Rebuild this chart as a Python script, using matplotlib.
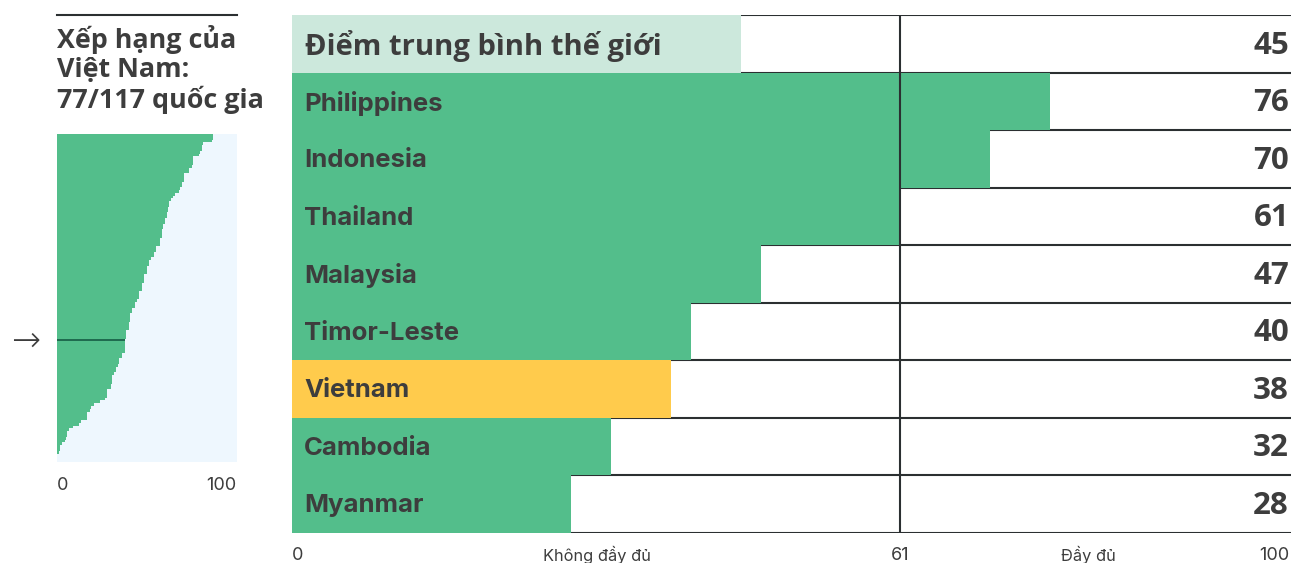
import matplotlib
matplotlib.use("Agg")
import matplotlib.pyplot as plt

# main chart data
labels = ["Điểm trung bình thế giới", "Philippines", "Indonesia", "Thailand",
          "Malaysia", "Timor-Leste", "Vietnam", "Cambodia", "Myanmar"]
scores = [45, 76, 70, 61, 47, 40, 38, 32, 28]
threshold = 61

# scores of all 117 countries, sorted high -> low
dist_scores = [
    86.5, 86.5, 85.9, 81.1, 80.4, 80.4, 79.5, 78.9, 75.6, 75.6,
    75.6, 75.2, 73.3, 73.3, 70.6, 70.6, 70.6, 69.3, 69.3, 68.5,
    67.8, 65.4, 64.6, 63.1, 62.4, 62.4, 61.9, 61.9, 61.1, 61.1,
    59.8, 59.8, 59.1, 59.1, 58.3, 58.3, 58.3, 57.2, 57.2, 57.2,
    55.2, 55.2, 54.1, 54.1, 52.4, 51.1, 51.1, 50.0, 50.0, 50.0,
    48.5, 48.5, 48.5, 47.2, 47.2, 47.2, 45.4, 45.4, 45.4, 44.3,
    43.1, 43.1, 41.5, 41.5, 40.6, 40.6, 40.6, 39.8, 39.8, 39.8,
    38.3, 38.3, 38.3,
    38.0,
    38.0, 38.0, 38.0, 38.0, 35.9, 35.9, 34.4, 34.4, 33.9, 32.8,
    32.8, 31.7, 30.6, 30.6, 30.6, 29.8, 29.8, 27.6, 27.6, 27.6,
    26.7, 23.9, 20.4, 18.9, 18.3, 16.7, 16.7, 16.7, 13.3, 12.2,
    8.9, 6.7, 5.6, 5.6, 5.0, 4.4, 2.8, 1.7, 1.7, 1.1,
    0, 0, 0]
vn_index = 73

GREEN = "#53be8b"
LIGHT = "#cce8dc"
YELLOW = "#ffcb4c"
DARK = "#2b2f31"
TEXT = "#3d3d3d"

W, H = 1291, 563
fig = plt.figure(figsize=(W / 100, H / 100), dpi=100)

def px(x0, y0, x1, y1):
    # pixel box (top-left origin) -> figure fraction
    return [x0 / W, 1 - y1 / H, (x1 - x0) / W, (y1 - y0) / H]

# ---------------- main bar chart ----------------
ax = fig.add_axes(px(292, 15, 1291, 533))
n = len(labels)
ax.set_xlim(0, 100.2)
ax.set_ylim(n, 0)
ax.axis("off")

ax.hlines(range(n + 1), 0, 100.2, color=DARK, lw=1.5, zorder=1)
colors = [LIGHT] + [YELLOW if l == "Vietnam" else GREEN for l in labels[1:]]
ax.barh([i + 0.5 for i in range(n)], scores, height=1.0, color=colors, zorder=2)
ax.vlines(threshold, 0, n, color=DARK, lw=1.5, zorder=3)

for i, (lab, s) in enumerate(zip(labels, scores)):
    if i == 0:
        ax.text(1.3, i + 0.53, lab, fontsize=21, fontweight="bold", family="Open Sans",
                color=TEXT, va="center", ha="left", zorder=4)
    else:
        ax.text(1.2, i + 0.53, lab, fontsize=18.5, fontweight="bold", family="Inter",
                color=TEXT, va="center", ha="left", zorder=4)
    ax.text(100.0, i + 0.53, str(s), fontsize=22.5, fontweight="bold", family="Open Sans",
            color=TEXT, va="center", ha="right", zorder=4)

# bottom scale labels
yb = 1 - 555 / H
fig.text(292 / W, yb, "0", fontsize=13, color=TEXT, ha="left", va="center", family="Inter")
fig.text(597 / W, yb, "Không đầy đủ", fontsize=11.8, color=TEXT, ha="center", va="center", family="Inter")
fig.text(900 / W, yb, "61", fontsize=13, color=TEXT, ha="center", va="center", family="Inter")
fig.text(1088 / W, yb, "Đầy đủ", fontsize=11.8, color=TEXT, ha="center", va="center", family="Inter")
fig.text(1289 / W, yb, "100", fontsize=13, color=TEXT, ha="right", va="center", family="Inter")

# ---------------- left mini chart ----------------
fig.add_artist(plt.Line2D([57 / W, 237 / W], [1 - 15 / H, 1 - 15 / H], color=DARK, lw=1.5))
fig.text(57 / W, 1 - 25 / H, "Xếp hạng của\nViệt Nam:\n77/117 quốc gia", fontsize=19.4,
         fontweight="bold", family="Open Sans", color=TEXT, ha="left", va="top",
         linespacing=1.14)

ax2 = fig.add_axes(px(57, 134, 237, 462))
m = len(dist_scores)
ax2.set_facecolor("#eef7fe")
ax2.set_xlim(0, 100)
ax2.set_ylim(m, 0)
bar_cols = ["#1f6b4f" if i == vn_index else GREEN for i in range(m)]
ax2.barh([i + 0.5 for i in range(m)], dist_scores, height=1.0, color=bar_cols, lw=0)
ax2.set_xticks([])
ax2.set_yticks([])
for s in ax2.spines.values():
    s.set_visible(False)

fig.text(57 / W, 1 - 486 / H, "0", fontsize=13, color=TEXT, ha="left", va="center", family="Inter")
fig.text(236 / W, 1 - 486 / H, "100", fontsize=13, color=TEXT, ha="right", va="center", family="Inter")
fig.text(26 / W, 1 - 341 / H, "→", fontsize=25, color=TEXT, ha="center", va="center",
         family="DejaVu Sans", fontweight="light")

fig.savefig("out.png", dpi=100)
